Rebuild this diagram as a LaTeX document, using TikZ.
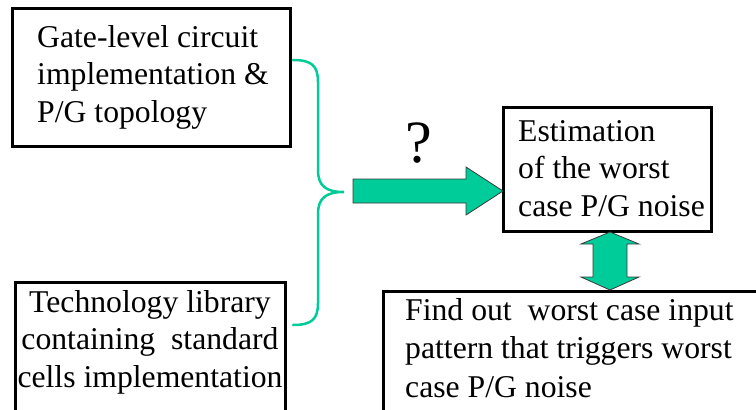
\documentclass[tikz,border=0pt]{standalone}
\usepackage{fontspec}
\setmainfont{Liberation Serif}
\usetikzlibrary{calc}
\definecolor{pgreen}{HTML}{00CC99}
\definecolor{aedge}{HTML}{3A3A3A}
\begin{document}
\begin{tikzpicture}[x=1pt,y=-1pt,
  box/.style={draw=black,line width=3pt,inner sep=0pt,outer sep=0pt,anchor=north west},
  txt/.style={inner sep=0pt,anchor=north west,align=left,font=\fontsize{31.7}{37.5}\selectfont},
  brace/.style={draw=pgreen,line width=2.5pt,line cap=round},
  fat/.style={fill=pgreen,draw=aedge,line width=0.8pt,line join=miter}]
\useasboundingbox (0,0) rectangle (756,410);
\clip (0,0) rectangle (756,410);
% boxes
\node[box,minimum width=278pt,minimum height=138pt] (b1) at (12,8) {};
\node[box,minimum width=270pt,minimum height=150pt] (b2) at (15,282) {};
\node[box,minimum width=208pt,minimum height=124pt] (b3) at (503,107) {};
\node[box,minimum width=400pt,minimum height=140pt] (b4) at (383,291) {};
% texts
\node[txt] (t1) at (37,25.3) {Gate-level circuit\\implementation \&\\P/G topology};
\node[txt,anchor=north,align=center] (t2) at (150,290) {Technology library\\containing~~standard\\cells implementation};
\node[txt] (t3) at (518,120) {Estimation\\of the worst\\case P/G noise};
\node[txt,font=\fontsize{31.7}{38.5}\selectfont] (t4) at (405,298) {Find out~~worst case input\\pattern that triggers worst\\case P/G noise};
\node[inner sep=0pt,anchor=base,font=\fontsize{60}{60}\selectfont] (q) at (419,162) {?};
% brace
\coordinate (bs) at (293,60);
\coordinate (bt) at (344,192);
\coordinate (be) at (293,325);
\draw[brace] (bs) .. controls (312,60) and (318,66) .. (318,82) -- (318,170)
  .. controls (318,186) and (326,192) .. (bt)
  .. controls (326,192) and (318,198) .. (318,214) -- (318,303)
  .. controls (318,319) and (312,325) .. (be);
% single block arrow, tail near brace, tip at estimation box
\coordinate (atail) at (353,191);
\coordinate (atip) at (b3.west |- atail);
\draw[fat] ($(atail)+(0,-12)$) -- ($(atip)+(-37,-12)$) -- ($(atip)+(-37,-24)$) -- (atip)
  -- ($(atip)+(-37,24)$) -- ($(atip)+(-37,12)$) -- ($(atail)+(0,12)$) -- cycle;
% double block arrow between estimation box and pattern box
\coordinate (dtop) at (610,232);
\coordinate (dbot) at (610,290);
\draw[fat] (dtop) -- ($(dtop)+(29,12)$) -- ($(dtop)+(17,12)$) -- ($(dbot)+(17,-13)$)
  -- ($(dbot)+(29,-13)$) -- (dbot) -- ($(dbot)+(-29,-13)$) -- ($(dbot)+(-17,-13)$)
  -- ($(dtop)+(-17,12)$) -- ($(dtop)+(-29,12)$) -- cycle;
\end{tikzpicture}
\end{document}
